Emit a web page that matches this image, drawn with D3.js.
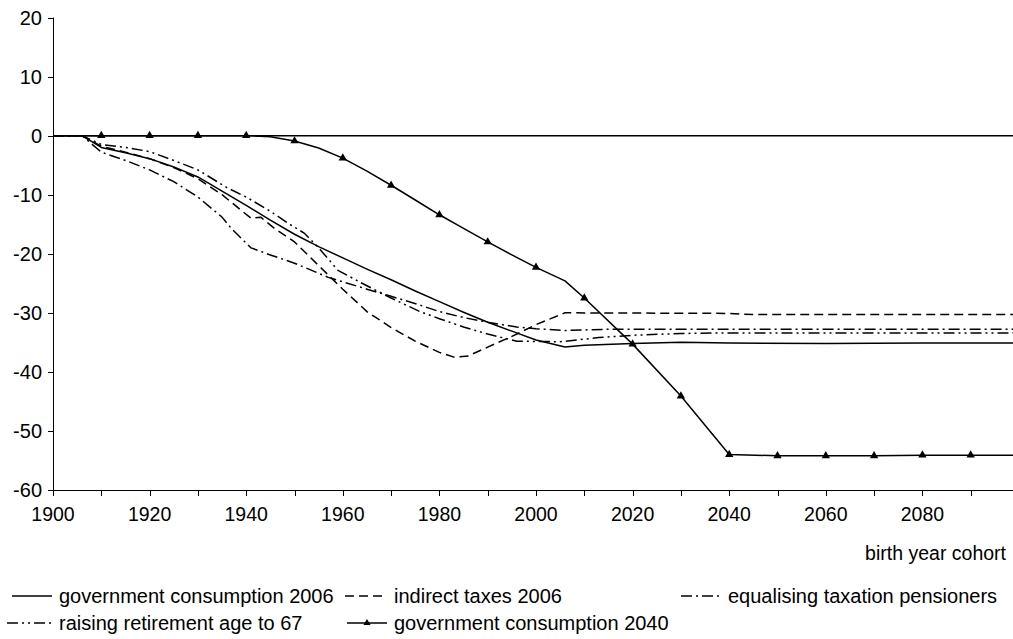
<!DOCTYPE html>
<html><head><meta charset="utf-8">
<script src="https://cdn.jsdelivr.net/npm/d3@7"></script>
<style>
body{margin:0;background:#fff}
svg{display:block}
text{font-family:"Liberation Sans",Arial,Helvetica,sans-serif;fill:#000}
</style>
</head><body>
<svg id="c" width="1013" height="639"></svg>
<script>
// ---- data ----
const xTicks = d3.range(1900, 2100, 10);
const xTickLabels = d3.range(1900, 2100, 20);
const yTicks = [20, 10, 0, -10, -20, -30, -40, -50, -60];

const govCons2006Years = [1900,1906,1910,1915,1920,1925,1930,1935,1940,1945,1950,1955,1960,1965,1970,1975,1980,1985,1990,1995,2000,2006,2010,2020,2030,2040,2060,2080,2099];
const govCons2006Vals  = [0,0,-2.0,-2.9,-3.9,-5.3,-7.0,-9.4,-11.8,-14.3,-16.7,-18.8,-20.7,-22.6,-24.4,-26.3,-28.1,-29.9,-31.6,-33.1,-34.6,-35.8,-35.5,-35.2,-35.0,-35.1,-35.2,-35.1,-35.1];

const indirectTaxYears = [1900,1906,1910,1915,1920,1925,1930,1935,1941,1943,1946,1950,1955,1960,1965,1970,1975,1980,1983,1986,1990,1995,2000,2006,2040,2045,2099];
const indirectTaxVals  = [0,0,-1.8,-2.8,-3.9,-5.4,-7.3,-10.0,-14.0,-13.8,-15.8,-18.0,-22.0,-26.0,-29.8,-32.5,-34.8,-36.7,-37.5,-37.3,-35.8,-34.0,-32.0,-30.0,-30.1,-30.3,-30.3];

const equalisingYears = [1900,1906,1910,1915,1920,1925,1930,1935,1937,1941,1945,1950,1957,1965,1970,1976,1980,1985,1990,1996,2000,2006,2014,2040,2099];
const equalisingVals  = [0,0,-2.8,-4.2,-5.8,-7.8,-10.4,-13.8,-15.8,-19.0,-20.2,-21.6,-24.0,-26.0,-27.2,-28.7,-29.8,-30.8,-31.6,-32.4,-32.7,-33.0,-32.8,-32.8,-32.8];

const retirementYears = [1900,1906,1910,1915,1920,1925,1930,1936,1940,1945,1949,1952,1955,1959,1964,1970,1976,1980,1985,1990,1996,2005,2013,2020,2030,2040,2099];
const retirementVals  = [0,0,-1.5,-2.0,-2.7,-4.2,-5.8,-8.8,-10.4,-12.8,-15.0,-16.5,-19.0,-22.8,-25.0,-27.5,-29.8,-31.0,-32.4,-33.6,-34.8,-34.9,-34.2,-33.8,-33.5,-33.4,-33.4];

const govCons2040Years = [1900,1910,1920,1930,1940,1945,1950,1955,1960,1965,1970,1975,1980,1985,1990,1995,2000,2006,2010,2020,2030,2040,2050,2060,2070,2080,2090,2099];
const govCons2040Vals  = [0,0,0,0,0,-0.2,-0.9,-2.1,-3.8,-6.0,-8.4,-10.9,-13.4,-15.7,-18.0,-20.2,-22.3,-24.6,-27.5,-35.3,-44.1,-54.0,-54.2,-54.2,-54.2,-54.1,-54.1,-54.1];
const markerYears = d3.range(1910, 2100, 10);

const seriesNames = ["government consumption 2006","indirect taxes 2006","equalising taxation pensioners","raising retirement age to 67","government consumption 2040"];

// ---- layout ----
const svg = d3.select("#c");
const x = d3.scaleLinear().domain([1900, 2100]).range([53, 1019]);
const y = d3.scaleLinear().domain([-60, 20]).range([490, 17.5]);

svg.append("defs").append("clipPath").attr("id","clip")
  .append("rect").attr("x",53).attr("y",0).attr("width",1013-53).attr("height",500);

const plot = svg.append("g").attr("clip-path","url(#clip)");

// zero line
plot.append("line").attr("x1",x(1900)).attr("x2",1013).attr("y1",y(0)).attr("y2",y(0))
  .attr("stroke","#000").attr("stroke-width",1.5);

const line = d3.line().x(d=>x(d[0])).y(d=>y(d[1])).curve(d3.curveLinear);
const zip = (a,b)=>a.map((v,i)=>[v,b[i]]);

const styles = [
  {years:govCons2006Years, vals:govCons2006Vals, dash:null},
  {years:indirectTaxYears, vals:indirectTaxVals, dash:"9,5"},
  {years:equalisingYears, vals:equalisingVals, dash:"11,4,2,4"},
  {years:retirementYears, vals:retirementVals, dash:"11,4,2,4,2,4"},
  {years:govCons2040Years, vals:govCons2040Vals, dash:null}
];
styles.forEach(s=>{
  plot.append("path").datum(zip(s.years,s.vals)).attr("d",line)
    .attr("fill","none").attr("stroke","#000").attr("stroke-width",1.5)
    .attr("stroke-linejoin","round")
    .attr("stroke-dasharray",s.dash);
});

// markers for gov consumption 2040
const tri = d3.symbol().type(d3.symbolTriangle).size(30);
const lookup = new Map(zip(govCons2040Years, govCons2040Vals));
plot.selectAll(".mk").data(markerYears).enter().append("path")
  .attr("d",tri).attr("fill","#000")
  .attr("transform",d=>`translate(${x(d)},${y(lookup.get(d))})`);

// axes
const axG = svg.append("g").attr("stroke","#000").attr("stroke-width",1);
axG.append("line").attr("x1",53.5).attr("x2",53.5).attr("y1",y(20)).attr("y2",y(-60));
axG.append("line").attr("x1",53).attr("x2",1013).attr("y1",490.5).attr("y2",490.5);
yTicks.forEach(t=>{
  axG.append("line").attr("x1",48).attr("x2",53.5).attr("y1",Math.round(y(t))+0.5).attr("y2",Math.round(y(t))+0.5);
});
xTicks.forEach(t=>{
  axG.append("line").attr("x1",Math.round(x(t))+0.5).attr("x2",Math.round(x(t))+0.5).attr("y1",490).attr("y2",496);
});
svg.selectAll(".yl").data(yTicks).enter().append("text")
  .attr("x",42).attr("y",d=>y(d)+7).attr("text-anchor","end")
  .style("font-size","20px").text(d=>d);
svg.selectAll(".xl").data(xTickLabels).enter().append("text")
  .attr("x",d=>x(d)).attr("y",521).attr("text-anchor","middle")
  .style("font-size","19.5px").text(d=>d);

svg.append("text").attr("x",1006).attr("y",560).attr("text-anchor","end")
  .style("font-size","19.5px").text("birth year cohort");

// legend
const legendPos = [
  {x1:12,x2:52,y:596,tx:59},
  {x1:345,x2:387,y:596,tx:394},
  {x1:681,x2:723,y:596,tx:728},
  {x1:7,x2:53,y:623,tx:59},
  {x1:347,x2:387,y:623,tx:394}
];
legendPos.forEach((p,i)=>{
  svg.append("line").attr("x1",p.x1).attr("x2",p.x2).attr("y1",p.y).attr("y2",p.y)
    .attr("stroke","#000").attr("stroke-width",1.5).attr("stroke-dasharray",styles[i].dash);
  if(i===4){
    svg.append("path").attr("d",d3.symbol().type(d3.symbolTriangle).size(22))
      .attr("transform",`translate(${(p.x1+p.x2)/2},${p.y})`).attr("fill","#000");
  }
  svg.append("text").attr("x",p.tx).attr("y",p.y+7).style("font-size","20px").text(seriesNames[i]);
});
</script>
</body></html>
